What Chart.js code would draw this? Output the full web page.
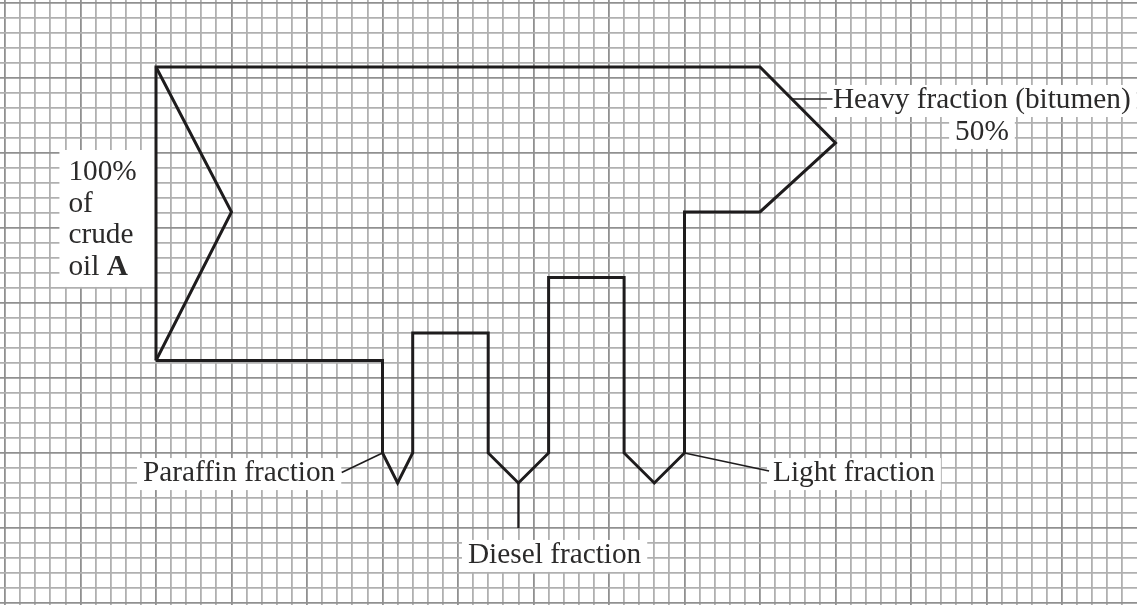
<!DOCTYPE html>
<html><head><meta charset="utf-8">
<script src="https://cdn.jsdelivr.net/npm/chart.js@4.4.1/dist/chart.umd.min.js"></script>
<style>html,body{margin:0;padding:0;background:#fff;overflow:hidden}#wrap{width:1137px;height:605px;position:relative}</style>
</head><body><div id="wrap"><canvas id="c"></canvas></div>
<script>
// ---- Data (grid-square units, y measured downward) ----
const outlineX = [10, 10, 50, 55, 50, 45, 45, 43, 41, 41, 36, 36, 34, 32, 32, 27, 27, 26, 25, 25, 10];
const outlineY = [23.83, 4.27, 4.27, 9.33, 13.93, 13.93, 30, 32, 30, 18.3, 18.3, 30, 32, 30, 22, 22, 30, 32, 30, 23.83, 23.83];
const crudeArrowX = [10, 15, 10];
const crudeArrowY = [4.27, 13.93, 23.83];
const heavyLeaderX = [52.1, 54.8];
const heavyLeaderY = [6.4, 6.4];
const paraffinLeaderX = [25, 22.3];
const paraffinLeaderY = [30, 31.3];
const dieselLeaderX = [34, 34];
const dieselLeaderY = [32, 35];
const lightLeaderX = [45, 50.6];
const lightLeaderY = [30, 31.2];
const labelTexts = ['Heavy fraction (bitumen)', '50%', 'Paraffin fraction', 'Diesel fraction', 'Light fraction'];
const crudeLines = ['100%', 'of', 'crude', 'oil '];
const crudeBold = 'A';

const pts = (xs, ys) => xs.map((x, i) => ({ x: x, y: ys[i] }));
const INK = '#1e1c1d';
const TXT = '#2b2a2a';
const FONT = '29.3px "Liberation Serif", "Times New Roman", serif';
const FONTB = 'bold 29.3px "Liberation Serif", "Times New Roman", serif';

// label placement (grid units): x, baseline y, align
const labelPlaces = [
  { t: 0, x: 54.83, y: 7.0, align: 'left' },
  { t: 1, x: 64.7, y: 9.13, align: 'center' },
  { t: 2, x: 9.14, y: 31.87, align: 'left' },
  { t: 3, x: 30.66, y: 37.33, align: 'left' },
  { t: 4, x: 50.86, y: 31.87, align: 'left' }
];
const crudePlace = { x: 4.2, y: [11.8, 13.93, 16.0, 18.13] };

const labelPlugin = {
  id: 'labels',
  beforeDatasetsDraw(chart) {
    const ctx = chart.ctx, sx = chart.scales.x, sy = chart.scales.y;
    ctx.save();
    ctx.fillStyle = '#ffffff';
    ctx.font = FONT;
    labelPlaces.forEach(p => {
      const w = ctx.measureText(labelTexts[p.t]).width;
      const px = sx.getPixelForValue(p.x), py = sy.getPixelForValue(p.y);
      const left = p.align === 'center' ? px - w / 2 : px;
      ctx.fillRect(left - 6, py - 23, w + 12, 32);
    });
    const cx = sx.getPixelForValue(crudePlace.x);
    const top = sy.getPixelForValue(crudePlace.y[0]) - 30;
    const bot = sy.getPixelForValue(crudePlace.y[3]) + 12;
    ctx.fillRect(cx - 9, top, sx.getPixelForValue(10) - (cx - 9), bot - top);
    ctx.restore();
  },
  afterDatasetsDraw(chart) {
    const ctx = chart.ctx, sx = chart.scales.x, sy = chart.scales.y;
    ctx.save();
    ctx.fillStyle = TXT;
    ctx.font = FONT;
    ctx.textBaseline = 'alphabetic';
    labelPlaces.forEach(p => {
      ctx.textAlign = p.align;
      ctx.fillText(labelTexts[p.t], sx.getPixelForValue(p.x), sy.getPixelForValue(p.y));
    });
    ctx.textAlign = 'left';
    const cx = sx.getPixelForValue(crudePlace.x);
    crudeLines.forEach((s, i) => {
      const y = sy.getPixelForValue(crudePlace.y[i]);
      ctx.font = FONT;
      ctx.fillText(s, cx, y);
      if (i === 3) {
        const w = ctx.measureText(s).width;
        ctx.font = FONTB;
        ctx.fillText(crudeBold, cx + w, y);
      }
    });
    ctx.restore();
  }
};

const intTicks = (a, b) => { const r = []; for (let v = a; v <= b; v++) r.push({ value: v }); return r; };
const gridColor = c => (c.tick && Math.round(c.tick.value) % 5 === 0) ? '#909090' : '#b0b0b0';

const lineDs = (data, w) => ({
  data, showLine: true, fill: false, tension: 0, pointRadius: 0,
  borderColor: INK, borderWidth: w, borderJoinStyle: 'miter', borderCapStyle: 'butt'
});

new Chart(document.getElementById('c'), {
  type: 'scatter',
  data: {
    datasets: [
      lineDs(pts(outlineX, outlineY), 3),
      lineDs(pts(crudeArrowX, crudeArrowY), 3),
      lineDs(pts(heavyLeaderX, heavyLeaderY), 1.6),
      lineDs(pts(paraffinLeaderX, paraffinLeaderY), 1.6),
      lineDs(pts(dieselLeaderX, dieselLeaderY), 2.2),
      lineDs(pts(lightLeaderX, lightLeaderY), 1.6)
    ]
  },
  options: {
    responsive: true, maintainAspectRatio: false, animation: false,
    layout: { padding: 0 },
    plugins: { legend: { display: false }, tooltip: { enabled: false } },
    events: [],
    scales: {
      x: {
        type: 'linear', min: -5 / 15.1, max: (1137 - 5) / 15.1,
        afterBuildTicks: s => { s.ticks = intTicks(0, 74); },
        ticks: { display: false },
        border: { display: false },
        grid: { drawTicks: false, color: gridColor, lineWidth: 1.8 }
      },
      y: {
        type: 'linear', reverse: true, min: -3 / 15, max: (605 - 3) / 15,
        afterBuildTicks: s => { s.ticks = intTicks(0, 40); },
        ticks: { display: false },
        border: { display: false },
        grid: { drawTicks: false, color: gridColor, lineWidth: 1.8 }
      }
    }
  },
  plugins: [labelPlugin]
});
</script></body></html>
